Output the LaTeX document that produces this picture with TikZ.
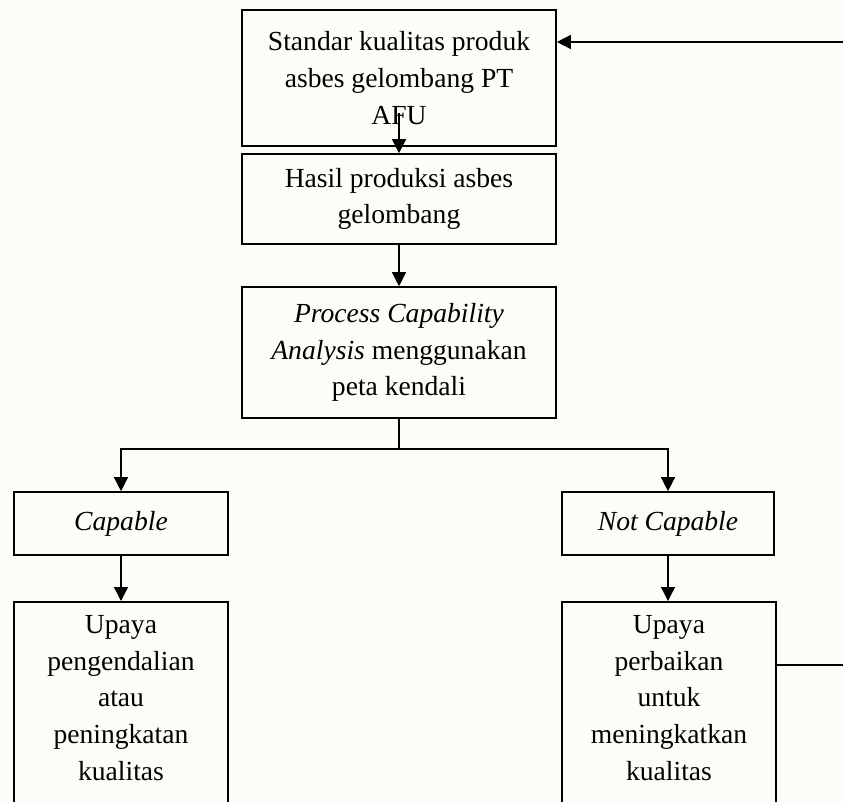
\documentclass[tikz,border=0pt]{standalone}
\usepackage{fontspec}
\setmainfont{Liberation Serif}
\usetikzlibrary{arrows.meta}
\definecolor{paper}{RGB}{253,253,248}
\begin{document}
\begin{tikzpicture}[x=1pt,y=-1pt,
  txt/.style={font={\fontsize{27.6pt}{36.6pt}\selectfont}, align=center, inner sep=0pt},
  box/.style={txt, draw, line width=1.6pt, inner sep=0pt, minimum width=314pt},
  arr/.style={line width=1.3pt, -{Triangle[length=14pt,width=14pt]}},
  ln/.style={line width=1.3pt}]
\useasboundingbox (0,0) rectangle (843,802);
\clip (0,0) rectangle (843,802);
\fill[paper] (0,0) rectangle (843,802);

\node[box, minimum height=136pt] (b1) at (399,78)
  {Standar kualitas produk\\asbes gelombang PT\\AFU};
\node[box, minimum height=90pt] (b2) at (399,199)
  {Hasil produksi asbes\\gelombang};
\node[box, minimum height=131pt] (b3) at (399,352.5)
  {\textit{Process Capability}\\\textit{Analysis} menggunakan\\peta kendali};
\node[box, minimum width=214pt, minimum height=63pt] (cap) at (121,523.5)
  {\textit{Capable}};
\node[box, minimum width=212pt, minimum height=63pt] (ncap) at (668,523.5)
  {\textit{Not Capable}};
\node[box, minimum width=214pt, minimum height=240pt, anchor=north] (lb) at (121,601) {};
\node[txt] (lbt) at (121,698)
  {Upaya\\pengendalian\\atau\\peningkatan\\kualitas};
\node[box, minimum width=214pt, minimum height=240pt, anchor=north] (rb) at (669,601) {};
\node[txt] (rbt) at (669,698)
  {Upaya\\perbaikan\\untuk\\meningkatkan\\kualitas};

\coordinate (a1) at (399,113);
\coordinate (br) at (399,449);
\coordinate (fbl) at (847,665);
\coordinate (fbt) at (847,42);

\draw[arr] (a1) -- (b2.north);
\draw[arr] (b2.south) -- (b3.north);
\draw[ln] (b3.south) -- (br);
\draw[arr] (br) -| (cap.north);
\draw[arr] (br) -| (ncap.north);
\draw[arr] (cap.south) -- (lb.north);
\draw[arr] (ncap.south) -- (ncap.south |- rb.north);
\draw[arr] (rb.east |- fbl) -- (fbl) -- (fbt) -- (b1.east |- fbt);
\end{tikzpicture}
\end{document}
